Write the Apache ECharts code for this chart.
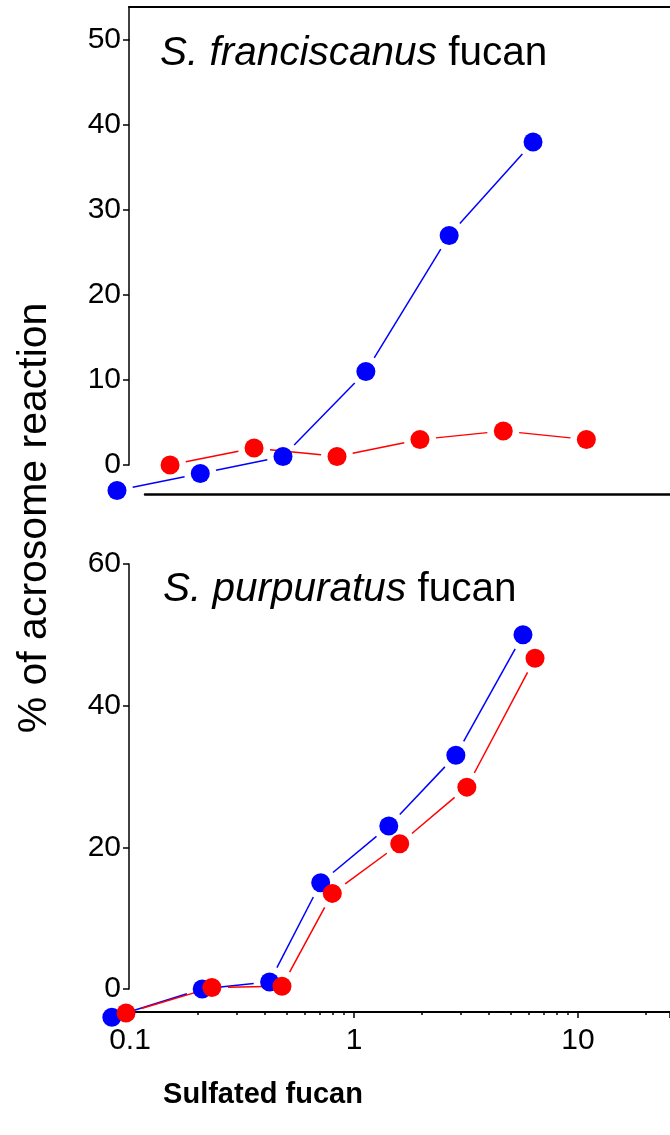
<!DOCTYPE html>
<html>
<head>
<meta charset="utf-8">
<script src="https://cdn.jsdelivr.net/npm/echarts@6/dist/echarts.min.js"></script>
<style>
  html, body { margin: 0; padding: 0; background: #fff; }
  #main { width: 670px; height: 1135px; }
</style>
</head>
<body>
<div id="main"></div>
<script>
// top panel: S. franciscanus fucan
const franBlueX = [0.0875, 0.206, 0.482, 1.13, 2.66, 6.3];
const franBlueY = [-3, -1, 1, 11, 27, 38];
const franRedX = [0.151, 0.358, 0.84, 1.97, 4.64, 10.9];
const franRedY = [0, 2, 1, 3, 4, 3];
// bottom panel: S. purpuratus fucan
const purpBlueX = [0.083, 0.21, 0.42, 0.71, 1.43, 2.85, 5.68];
const purpBlueY = [-4, 0, 1, 15, 23, 33, 50];
const purpRedX = [0.096, 0.232, 0.477, 0.8, 1.6, 3.19, 6.43];
const purpRedY = [-3.4, 0.2, 0.4, 13.5, 20.5, 28.5, 46.7];

const topYTicks = [0, 50, 10];     // min, max, step
const bottomYTicks = [0, 60, 20];
const topXRange = [0.1167, 25.75];
const bottomXRange = [0.1, 25.75];

const FONT = 'Liberation Sans, Arial, sans-serif';
const GAP = 16; // line stops short of the dots

function pairs(xs, ys) {
  return xs.map((x, i) => [x, ys[i]]);
}

function segments(xs, ys) {
  const out = [];
  for (let i = 0; i < xs.length - 1; i++) {
    out.push([xs[i], ys[i], xs[i + 1], ys[i + 1]]);
  }
  return out;
}

function lineSeries(xs, ys, color, idx) {
  return {
    type: 'custom',
    xAxisIndex: idx,
    yAxisIndex: idx,
    silent: true,
    clip: false,
    data: segments(xs, ys),
    encode: { x: [0, 2], y: [1, 3] },
    renderItem: function (params, api) {
      const a = api.coord([api.value(0), api.value(1)]);
      const b = api.coord([api.value(2), api.value(3)]);
      const dx = b[0] - a[0], dy = b[1] - a[1];
      const len = Math.sqrt(dx * dx + dy * dy);
      if (len <= 2 * GAP) return null;
      const ux = dx / len, uy = dy / len;
      return {
        type: 'line',
        shape: {
          x1: a[0] + ux * GAP, y1: a[1] + uy * GAP,
          x2: b[0] - ux * GAP, y2: b[1] - uy * GAP
        },
        style: { stroke: color, lineWidth: 1.5 }
      };
    }
  };
}

function dotSeries(xs, ys, color, idx, z) {
  return {
    type: 'scatter',
    xAxisIndex: idx,
    yAxisIndex: idx,
    clip: false,
    z: z,
    symbol: 'circle',
    symbolSize: 19,
    itemStyle: { color: color, opacity: 1 },
    data: pairs(xs, ys)
  };
}

const chart = echarts.init(document.getElementById('main'), null, { renderer: 'canvas' });

const blackLine = (w) => ({ show: true, onZero: false, lineStyle: { color: '#000', width: w } });
const hidden = { show: false };
const titleStyle = {
  fontSize: 40.5, fontWeight: 'normal', color: '#000', fontFamily: FONT,
  rich: { i: { fontStyle: 'italic', fontSize: 40.5, color: '#000', fontFamily: FONT } }
};

const option = {
  animation: false,
  backgroundColor: '#fff',
  title: [
    { text: '{i|S. franciscanus} fucan', left: 160, top: 33, padding: 0, textStyle: titleStyle },
    { text: '{i|S. purpuratus} fucan', left: 163, top: 569, padding: 0, textStyle: titleStyle }
  ],
  grid: [
    { left: 145, right: 0, top: 40, height: 425 },
    { left: 129, right: 0, top: 7, height: 33 },
    { left: 130, right: 0, top: 564, height: 425 }
  ],
  xAxis: [
    {
      gridIndex: 0, type: 'log', min: topXRange[0], max: topXRange[1], offset: 29,
      axisLine: blackLine(2.5), axisTick: hidden, axisLabel: hidden,
      splitLine: hidden, minorTick: hidden
    },
    {
      gridIndex: 1, type: 'value', min: 0, max: 1, position: 'top',
      axisLine: blackLine(2), axisTick: hidden, axisLabel: hidden, splitLine: hidden
    },
    {
      gridIndex: 2, type: 'log', min: bottomXRange[0], max: bottomXRange[1], offset: 23,
      axisLine: blackLine(2),
      axisTick: { show: true, inside: false, length: 6, lineStyle: { color: '#000', width: 1.5 } },
      minorTick: { show: true, splitNumber: 9, length: 3, lineStyle: { color: '#000', width: 1.5 } },
      axisLabel: {
        show: true, fontSize: 30, color: '#000', fontFamily: FONT, margin: 14,
        showMinLabel: true, showMaxLabel: false
      },
      splitLine: hidden
    }
  ],
  yAxis: [
    {
      gridIndex: 0, type: 'value', min: topYTicks[0], max: topYTicks[1], interval: topYTicks[2],
      offset: 16,
      axisLine: blackLine(1.5),
      axisTick: { show: true, length: 6, lineStyle: { color: '#000', width: 1.5 } },
      axisLabel: { fontSize: 30, color: '#000', fontFamily: FONT, margin: 8 },
      splitLine: hidden
    },
    {
      gridIndex: 1, type: 'value', min: 0, max: 1,
      axisLine: blackLine(1.5), axisTick: hidden, axisLabel: hidden, splitLine: hidden
    },
    {
      gridIndex: 2, type: 'value', min: bottomYTicks[0], max: bottomYTicks[1], interval: bottomYTicks[2],
      offset: 1,
      axisLine: blackLine(1.5),
      axisTick: { show: true, length: 6, lineStyle: { color: '#000', width: 1.5 } },
      axisLabel: { fontSize: 30, color: '#000', fontFamily: FONT, margin: 8 },
      splitLine: hidden
    }
  ],
  graphic: [
    {
      type: 'text', x: 35, y: 518, rotation: Math.PI / 2,
      style: {
        text: '% of acrosome reaction', fontSize: 41, fontFamily: FONT, fill: '#000',
        align: 'center', verticalAlign: 'middle'
      }
    },
    {
      type: 'text', x: 263, y: 1095,
      style: {
        text: 'Sulfated fucan', fontSize: 29, fontWeight: 'bold', fontFamily: FONT, fill: '#000',
        align: 'center', verticalAlign: 'middle'
      }
    }
  ],
  series: [
    lineSeries(franBlueX, franBlueY, '#0000ff', 0),
    lineSeries(franRedX, franRedY, '#ff0000', 0),
    dotSeries(franBlueX, franBlueY, '#0000ff', 0, 5),
    dotSeries(franRedX, franRedY, '#ff0000', 0, 6),
    lineSeries(purpBlueX, purpBlueY, '#0000ff', 2),
    lineSeries(purpRedX, purpRedY, '#ff0000', 2),
    dotSeries(purpBlueX, purpBlueY, '#0000ff', 2, 5),
    dotSeries(purpRedX, purpRedY, '#ff0000', 2, 6)
  ]
};

chart.setOption(option);
</script>
</body>
</html>
